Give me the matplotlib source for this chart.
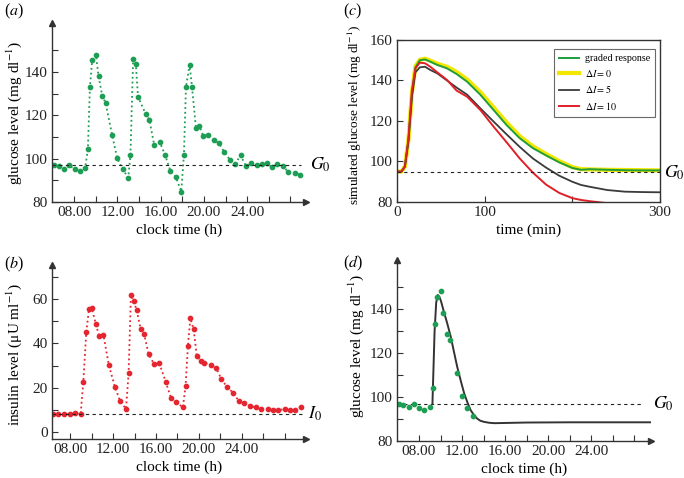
import numpy as np
import matplotlib
matplotlib.use("Agg")
import matplotlib.pyplot as plt

plt.rcParams['font.family'] = ['Liberation Serif', 'DejaVu Serif']
plt.rcParams['mathtext.fontset'] = 'stix'

W, H = 684, 478

# ---- (a) measured glucose over a day ----
glucose_time = [6.1, 6.55, 7.08, 7.54, 8.03, 8.5, 9.0, 9.26, 9.45, 9.66,
                10.0, 10.25, 10.6, 10.9, 11.5, 11.97, 12.5, 13.0, 13.2, 13.45,
                13.7, 13.9, 14.6, 14.95, 15.4, 15.9, 16.4, 16.9, 17.4, 17.9,
                18.15, 18.34, 18.68, 18.9, 19.26, 19.57, 19.94, 20.4, 20.9, 21.4,
                21.9, 22.4, 22.9, 23.4, 23.9, 24.4, 24.9, 25.35, 25.85, 26.3,
                26.8, 27.35, 27.8, 28.4, 28.9]
glucose = [96.9, 96.5, 95.4, 96.9, 95.1, 94.3, 95.5, 104.3, 133, 145.5,
           148, 138, 128.8, 125.8, 111, 100.3, 95, 91.2, 101.7, 146,
           143.7, 128.5, 120.8, 118, 106.3, 107.8, 101.8, 94.3, 91.5, 84.8,
           101.7, 133, 143.4, 133, 114.3, 115.2, 110.5, 111, 108.8, 107,
           103, 99.5, 97.7, 101.5, 96.5, 97.8, 97.1, 97.4, 97.8, 96,
           97.5, 96.6, 93.7, 93.5, 92.6]
G0 = 97

# ---- (b) measured insulin ----
insulin_time = [6.38, 6.9, 7.4, 7.94, 8.44, 8.97, 9.22, 9.5, 9.75, 10.0,
                10.4, 10.7, 11.1, 11.6, 12.16, 12.66, 13.2, 13.44, 13.66, 13.9,
                14.2, 14.56, 14.9, 15.3, 15.8, 16.3, 16.9, 17.4, 17.9, 18.5,
                18.75, 18.97, 19.2, 19.5, 19.8, 20.2, 20.5, 21.1, 21.6, 22.1,
                22.6, 23.2, 23.7, 24.2, 24.75, 25.3, 25.8, 26.4, 26.9, 27.4,
                28.0, 28.5, 29.0, 29.5]
insulin = [8.1, 8.1, 8.1, 8.1, 8.4, 8.1, 22.7, 45.4, 55.6, 56.1,
           48.6, 43.3, 43.8, 30.1, 20.5, 13.8, 10.4, 26.6, 61.8, 59.4,
           55, 46.5, 44.1, 35.2, 30.8, 31.1, 22.7, 15.3, 13.4, 11.1,
           20.6, 38.8, 51.4, 46.5, 34.3, 31.9, 31.3, 30.4, 28.9, 23.8,
           20.5, 17.6, 14.1, 13.1, 11.7, 11.1, 10.2, 10.5, 9.8, 9.8,
           10.4, 9.9, 9.9, 11.3]
I0 = 8

# ---- (c) simulated glucose ----
sim_time = [0, 5, 9, 13, 17, 21, 26, 32, 38, 46, 57, 68, 80, 95, 110,
            125, 140, 155, 170, 185, 200, 210, 220, 240, 260, 280, 300]
sim_graded = [95, 95, 97.5, 110, 133, 146.5, 150, 150.4, 149.3, 147.7, 146, 143.2, 139.4, 133, 125.5,
              118, 111.5, 106.6, 103, 99.6, 96.8, 95.9, 96.2, 95.9, 95.7, 95.6, 95.6]
sim_di0 = [95, 95, 97.5, 110.5, 134, 147, 150.2, 150.8, 149.8, 148.3, 146.8, 144.2, 140.5, 134.3, 126.8,
           119.3, 112.5, 107.5, 103.7, 100.2, 97.2, 96.2, 96.1, 95.9, 95.8, 95.7, 95.6]
sim_di5 = [95, 95, 97.5, 110, 132, 144, 146.5, 146.8, 145.2, 143.5, 140, 136.5, 133, 126.3, 119.8,
           113.4, 107.2, 101.5, 97, 93, 90, 88.4, 87.5, 85.9, 85.1, 84.9, 84.8]
sim_di10 = [95, 95, 97.5, 111, 135, 146, 148.8, 148.5, 146.8, 144, 140.3, 135, 132, 125.5, 117.3,
            109.5, 101.5, 94.5, 88.6, 84.5, 81.9, 81, 80.4, 79.4, np.nan, np.nan, np.nan]
G0_sim = 94.6

# ---- (d) model fit to first meal ----
fit_time = [9.25, 9.45, 9.6, 9.75, 9.9, 10.05, 10.3, 10.65, 10.95, 11.25, 11.55, 11.9, 12.2,
            12.5, 12.8, 13.1, 13.4, 13.7, 14.05, 14.5, 15.0, 16.0, 18.0, 22.0, 29.9]
fit_glucose = [97, 130, 143, 146.4, 145.5, 143.5, 139, 133, 127.4, 120.5, 113.7, 107, 101.6,
               97.5, 94, 91.8, 90.2, 89.2, 88.7, 88.3, 88.1, 88.2, 88.4, 88.5, 88.5]
n_fit_points = 18

clock_ticks = [8, 12, 16, 20, 24]
clock_labels = ['08.00', '12.00', '16.00', '20.00', '24.00']

GREEN = '#1e9e55'
RED = '#e3262f'
AXC = '#333333'
LABEL_FS = 11


def px_rect(left, top, right, bottom):
    return [left / W, 1 - bottom / H, (right - left) / W, (bottom - top) / H]


def style_ticks(ax):
    ax.tick_params(which='both', direction='in', length=4, width=0.8,
                   color=AXC, labelsize=11, labelcolor='#222222', pad=3)


def arrow_axes(fig, rect, xlim, ylim):
    ax = fig.add_axes(rect)
    ax.set_xlim(*xlim)
    ax.set_ylim(*ylim)
    for s in ['top', 'right']:
        ax.spines[s].set_visible(False)
    for s in ['left', 'bottom']:
        ax.spines[s].set_color(AXC)
        ax.spines[s].set_linewidth(1.0)
    ax.plot(1, 0, marker='>', color=AXC, ms=5, transform=ax.transAxes, clip_on=False)
    ax.plot(0, 1, marker='^', color=AXC, ms=5, transform=ax.transAxes, clip_on=False)
    ax.set_xticks(range(8, 29, 2))
    ax.set_xticklabels([clock_labels[clock_ticks.index(t)] if t in clock_ticks else ''
                        for t in range(8, 29, 2)])
    style_ticks(ax)
    ax.set_xlabel('clock time (h)', fontsize=LABEL_FS, labelpad=3)
    return ax


def place_ylabel(ax, rect_px, right_px, center_py):
    left, top, right, bottom = rect_px
    ax.yaxis.set_label_coords((right_px - left) / (right - left),
                              (bottom - center_py) / (bottom - top))


fig = plt.figure(figsize=(W / 100, H / 100), dpi=100)

# (a)
rect_a = (52, 23, 306, 202)
ax = arrow_axes(fig, px_rect(*rect_a), (5.94, 29.45), (80, 162.6))
ax.set_yticks([80, 100, 120, 140])
ax.set_yticks([90, 110, 130, 150], minor=True)
ax.plot(glucose_time, glucose, ':', color=GREEN, lw=1.3, marker='o', ms=3.1)
ax.axhline(G0, xmax=0.98, color='#222222', lw=0.8, dashes=(3, 3))
ax.text(29.85, G0, '$G_0$', fontsize=13, va='center', ha='left')
ax.set_ylabel('glucose level (mg dl$^{-1}$)', fontsize=LABEL_FS)
place_ylabel(ax, rect_a, 24, 113)
fig.text(4 / W, 1 - 11 / H, '($a$)', fontsize=11.5, va='center')

# (b)
rect_b = (52, 265, 306, 439)
ax = arrow_axes(fig, px_rect(*rect_b), (6.3, 29.98), (-3.2, 75.5))
ax.set_yticks([0, 20, 40, 60])
ax.set_yticks([10, 30, 50, 70], minor=True)
ax.plot(insulin_time, insulin, ':', color=RED, lw=1.3, marker='o', ms=3.1)
ax.axhline(I0, xmax=0.985, color='#222222', lw=0.8, dashes=(3, 3))
ax.text(30.2, I0, '$I_0$', fontsize=13, va='center', ha='left')
ax.set_ylabel('insulin level (μU ml$^{-1}$)', fontsize=LABEL_FS)
place_ylabel(ax, rect_b, 24, 354)
fig.text(4 / W, 1 - 264 / H, '($b$)', fontsize=11.5, va='center')

# (c)
rect_c = (397, 40, 660, 202)
ax = fig.add_axes(px_rect(*rect_c))
ax.set_xlim(0, 300)
ax.set_ylim(80, 160)
for s in ax.spines.values():
    s.set_color(AXC)
    s.set_linewidth(1.0)
ax.plot(sim_time, sim_di0, color='#f2e600', lw=3.0, label='$\\Delta I = 0$')
ax.plot(sim_time, sim_graded, color='#1f9e3c', lw=1.4, label='graded response')
ax.plot(sim_time, sim_di5, color='#3a3a3a', lw=1.3, label='$\\Delta I = 5$')
ax.plot(sim_time, sim_di10, color='#e02027', lw=1.4, label='$\\Delta I = 10$')
ax.axhline(G0_sim, color='#222222', lw=0.8, dashes=(3, 3))
ax.text(304, G0_sim, '$G_0$', fontsize=13, va='center', ha='left')
ax.set_xticks([0, 100, 200, 300])
ax.set_xticklabels(['0', '100', '', '300'])
ax.set_yticks([80, 100, 120, 140, 160])
style_ticks(ax)
ax.set_xlabel('time (min)', fontsize=LABEL_FS, labelpad=3)
ax.set_ylabel('simulated glucose level (mg dl$^{-1}$)', fontsize=9.5)
place_ylabel(ax, rect_c, 364, 115)
handles, labels = ax.get_legend_handles_labels()
order = [1, 0, 2, 3]
leg = ax.legend([handles[i] for i in order], [labels[i] for i in order],
                loc='upper right', bbox_to_anchor=(0.99, 0.955), fontsize=7.2,
                frameon=True, fancybox=False, handlelength=2.0, borderpad=0.5,
                labelspacing=0.45, handletextpad=0.6, borderaxespad=0.2)
leg.get_frame().set_edgecolor('#444444')
leg.get_frame().set_linewidth(0.8)
fig.text(343 / W, 1 - 11 / H, '($c$)', fontsize=11.5, va='center')

# (d)
rect_d = (397, 260, 651, 441)
ax = arrow_axes(fig, px_rect(*rect_d), (5.96, 29.54), (80, 162.3))
ax.set_yticks([80, 100, 120, 140])
ax.set_yticks([90, 110, 130, 150], minor=True)
ax.axhline(G0, xmax=0.97, color='#222222', lw=0.8, dashes=(3, 3))
ax.plot(fit_time, fit_glucose, color='#333333', lw=1.4)
ax.plot(glucose_time[:n_fit_points], glucose[:n_fit_points], 'o', color=GREEN, ms=3.1)
ax.text(29.75, G0, '$G_0$', fontsize=13, va='center', ha='left')
ax.set_ylabel('glucose level (mg dl$^{-1}$)', fontsize=LABEL_FS)
place_ylabel(ax, rect_d, 366, 346)
fig.text(343 / W, 1 - 263 / H, '($d$)', fontsize=11.5, va='center')

fig.savefig('out.png', dpi=100)
